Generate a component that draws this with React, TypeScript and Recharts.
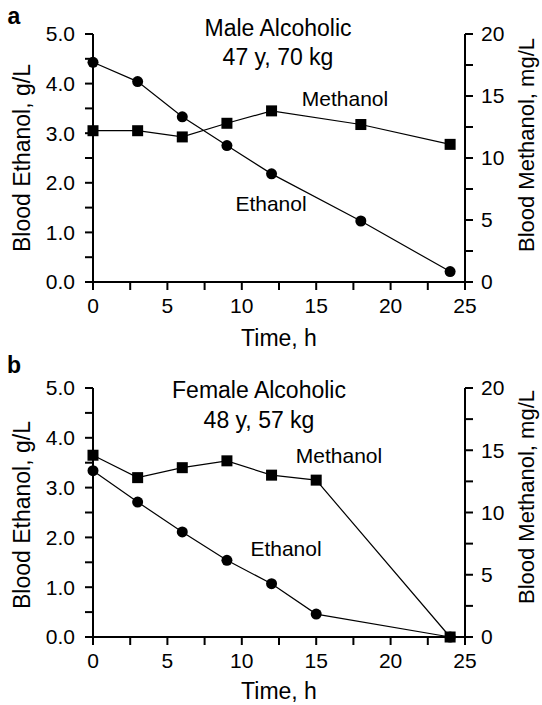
import { LineChart, Line, XAxis, YAxis } from "recharts";

// panel a: male alcoholic
const timeA = [0, 3, 6, 9, 12, 18, 24];
const ethanolA = [4.43, 4.04, 3.33, 2.75, 2.18, 1.23, 0.21];
const methanolA = [12.2, 12.2, 11.7, 12.8, 13.8, 12.7, 11.1];

// panel b: female alcoholic
const timeB = [0, 3, 6, 9, 12, 15, 24];
const ethanolB = [3.34, 2.71, 2.11, 1.54, 1.07, 0.46, 0];
const methanolB = [14.6, 12.8, 13.6, 14.15, 13.0, 12.6, 0];

const xTicks = [0, 2.5, 5, 7.5, 10, 12.5, 15, 17.5, 20, 22.5, 25];
const leftTicks = [0, 0.5, 1, 1.5, 2, 2.5, 3, 3.5, 4, 4.5, 5];
const rightTicks = [0, 2.5, 5, 7.5, 10, 12.5, 15, 17.5, 20];

const FONT = "'Liberation Sans', Arial, sans-serif";
const W = 542;
const PLOT_LEFT = 93;
const PLOT_RIGHT = 465;

const tickStyle = { fontSize: 21, fill: "#000", fontFamily: FONT };
const axisStroke = { stroke: "#000", strokeWidth: 2 };

const CircleDot = (props: any) => {
  const { cx, cy } = props;
  if (cx == null || cy == null) return null;
  return <circle cx={cx} cy={cy} r={5.5} fill="#000" />;
};

const SquareDot = (props: any) => {
  const { cx, cy } = props;
  if (cx == null || cy == null) return null;
  return <rect x={cx - 5.5} y={cy - 5.5} width={11} height={11} fill="#000" />;
};

interface PanelProps {
  top: number;
  height: number;
  plotTop: number;
  plotBottom: number;
  letter: string;
  title: string[];
  titleY: number[];
  titleX: number;
  time: number[];
  ethanol: number[];
  methanol: number[];
  methLabel: [number, number];
  ethLabel: [number, number];
  leftLabelY: number;
  rightLabelY: number;
  xLabelY: number;
  letterY: number;
}

function Txt({
  x,
  y,
  size,
  children,
  rotate = 0,
  bold = false,
}: {
  x: number;
  y: number;
  size: number;
  children: string;
  rotate?: number;
  bold?: boolean;
}) {
  return (
    <div
      style={{
        position: "absolute",
        left: x,
        top: y,
        transform: `translate(-50%, -50%) rotate(${rotate}deg)`,
        fontSize: size,
        fontFamily: FONT,
        fontWeight: bold ? "bold" : "normal",
        whiteSpace: "nowrap",
        lineHeight: 1,
        color: "#000",
      }}
    >
      {children}
    </div>
  );
}

function Panel(p: PanelProps) {
  const data = p.time.map((t, i) => ({
    t,
    ethanol: p.ethanol[i],
    methanol: p.methanol[i],
  }));
  const xAxisH = p.height - p.plotBottom;
  return (
    <div
      style={{
        position: "absolute",
        left: 0,
        top: p.top,
        width: W,
        height: p.height,
      }}
    >
      <LineChart
        width={W}
        height={p.height}
        data={data}
        margin={{ top: p.plotTop, right: 0, bottom: 0, left: 0 }}
      >
        <XAxis
          dataKey="t"
          type="number"
          domain={[0, 25]}
          ticks={xTicks}
          interval={0}
          height={xAxisH}
          tickSize={8}
          tickMargin={8}
          axisLine={axisStroke}
          tickLine={axisStroke}
          tick={tickStyle}
          tickFormatter={(v: number) => (v % 5 === 0 ? String(v) : "")}
        />
        <YAxis
          yAxisId="left"
          orientation="left"
          domain={[0, 5]}
          ticks={leftTicks}
          interval={0}
          width={PLOT_LEFT}
          tickSize={8}
          tickMargin={10}
          axisLine={axisStroke}
          tickLine={axisStroke}
          tick={tickStyle}
          tickFormatter={(v: number) => (v % 1 === 0 ? v.toFixed(1) : "")}
        />
        <YAxis
          yAxisId="right"
          orientation="right"
          domain={[0, 20]}
          ticks={rightTicks}
          interval={0}
          width={W - PLOT_RIGHT}
          tickSize={8}
          tickMargin={8}
          axisLine={axisStroke}
          tickLine={axisStroke}
          tick={tickStyle}
          tickFormatter={(v: number) => (v % 5 === 0 ? String(v) : "")}
        />
        <Line
          yAxisId="right"
          dataKey="methanol"
          stroke="#000"
          strokeWidth={1.2}
          dot={<SquareDot />}
          activeDot={false}
          isAnimationActive={false}
        />
        <Line
          yAxisId="left"
          dataKey="ethanol"
          stroke="#000"
          strokeWidth={1.2}
          dot={<CircleDot />}
          activeDot={false}
          isAnimationActive={false}
        />
      </LineChart>
      <Txt x={14} y={p.letterY} size={23} bold>
        {p.letter}
      </Txt>
      <Txt x={p.titleX} y={p.titleY[0]} size={23}>
        {p.title[0]}
      </Txt>
      <Txt x={p.titleX} y={p.titleY[1]} size={23}>
        {p.title[1]}
      </Txt>
      <Txt x={p.methLabel[0]} y={p.methLabel[1]} size={21}>
        Methanol
      </Txt>
      <Txt x={p.ethLabel[0]} y={p.ethLabel[1]} size={21}>
        Ethanol
      </Txt>
      <Txt x={22} y={p.leftLabelY} size={23} rotate={-90}>
        Blood Ethanol, g/L
      </Txt>
      <Txt x={527} y={p.rightLabelY} size={22} rotate={-90}>
        Blood Methanol, mg/L
      </Txt>
      <Txt x={(PLOT_LEFT + PLOT_RIGHT) / 2} y={p.xLabelY} size={23}>
        Time, h
      </Txt>
    </div>
  );
}

export default function App() {
  return (
    <div
      style={{
        position: "absolute",
        left: 0,
        top: 0,
        width: W,
        height: 705,
        background: "#fff",
        overflow: "hidden",
      }}
    >
      <Panel
        top={0}
        height={345}
        plotTop={34}
        plotBottom={282}
        letter="a"
        letterY={16}
        title={["Male Alcoholic", "47 y, 70 kg"]}
        titleY={[28, 57]}
        titleX={278}
        time={timeA}
        ethanol={ethanolA}
        methanol={methanolA}
        methLabel={[345, 98]}
        ethLabel={[271, 203]}
        leftLabelY={158}
        rightLabelY={145}
        xLabelY={338}
      />
      <Panel
        top={352}
        height={353}
        plotTop={36}
        plotBottom={285}
        letter="b"
        letterY={13}
        title={["Female Alcoholic", "48 y, 57 kg"]}
        titleY={[38, 68]}
        titleX={259}
        time={timeB}
        ethanol={ethanolB}
        methanol={methanolB}
        methLabel={[339, 103]}
        ethLabel={[286, 196]}
        leftLabelY={163}
        rightLabelY={145}
        xLabelY={339}
      />
    </div>
  );
}
